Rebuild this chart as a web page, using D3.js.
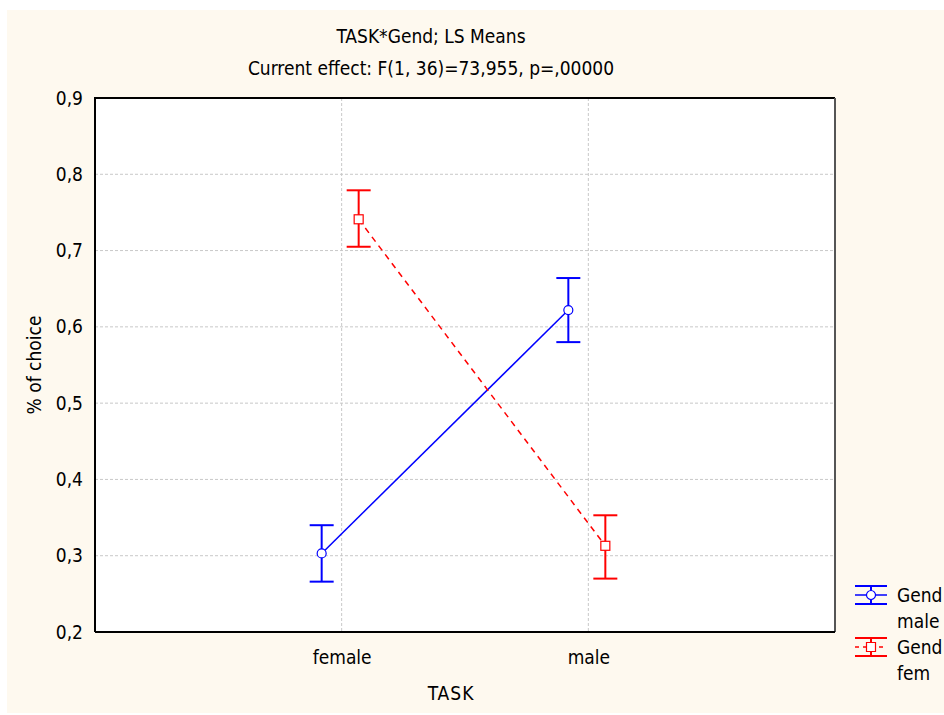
<!DOCTYPE html>
<html>
<head>
<meta charset="utf-8">
<script src="https://cdn.jsdelivr.net/npm/d3@7"></script>
<style>
  body { margin: 0; background: #fff; }
  text { font-family: "Liberation Sans Narrow", "DejaVu Sans Condensed", sans-serif; }
</style>
</head>
<body>
<svg id="svgx" width="944" height="715"></svg>
<script>
// ---- data
const tasks = ["female", "male"];
const yTicks = [0.2, 0.3, 0.4, 0.5, 0.6, 0.7, 0.8, 0.9];
const maleMean  = [0.303, 0.622];
const maleLow   = [0.266, 0.580];
const maleHigh  = [0.340, 0.664];
const femMean   = [0.741, 0.313];
const femLow    = [0.705, 0.270];
const femHigh   = [0.779, 0.353];
const legendLabels = [["Gend", "male"], ["Gend", "fem"]];

const margin = { top: 98, right: 109, bottom: 83, left: 95 };
const width = 944, height = 715;
const innerW = width - margin.left - margin.right;
const innerH = height - margin.top - margin.bottom;
const fontsize = 19;

const svg = d3.select("#svgx");

// cream background
svg.append("rect")
  .attr("x", 7).attr("y", 10)
  .attr("width", width - 7).attr("height", height - 12)
  .attr("fill", "#fef9ef");

const g = svg.append("g")
  .attr("transform", `translate(${margin.left},${margin.top})`);

g.append("rect")
  .attr("width", innerW).attr("height", innerH)
  .attr("fill", "#fff");

const xScale = d3.scalePoint().domain(tasks).range([0, innerW]).padding(1);
const yScale = d3.scaleLinear().domain([0.2, 0.9]).range([innerH, 0]);

// grid
g.selectAll(".hgrid").data(yTicks.slice(1, -1)).enter()
  .append("line")
  .attr("x1", 0).attr("x2", innerW)
  .attr("y1", d => yScale(d)).attr("y2", d => yScale(d))
  .attr("stroke", "#c8c8c8").attr("stroke-dasharray", "3,2").attr("stroke-width", 1);

g.selectAll(".vgrid").data(tasks).enter()
  .append("line")
  .attr("x1", d => xScale(d)).attr("x2", d => xScale(d))
  .attr("y1", 0).attr("y2", innerH)
  .attr("stroke", "#c8c8c8").attr("stroke-dasharray", "3,2").attr("stroke-width", 1);

// axes
const yAxis = d3.axisLeft(yScale).tickValues(yTicks)
  .tickFormat(d => d3.format(".1f")(d).replace(".", ","))
  .tickSize(0).tickPadding(12);
const yAxisG = g.append("g").call(yAxis);
yAxisG.select(".domain").remove();
yAxisG.selectAll("text").style("font-size", fontsize).attr("fill", "#000");

const xAxis = d3.axisBottom(xScale).tickSize(0).tickPadding(19);
const xAxisG = g.append("g").attr("transform", `translate(0,${innerH})`).call(xAxis);
xAxisG.select(".domain").remove();
xAxisG.selectAll("text").style("font-size", fontsize).attr("fill", "#000");

// frame
g.append("path")
  .attr("d", `M0,${innerH} V0 H${innerW}`)
  .attr("fill", "none").attr("stroke", "#000").attr("stroke-width", 2);
g.append("line")
  .attr("x1", innerW).attr("x2", innerW).attr("y1", 0).attr("y2", innerH)
  .attr("stroke", "#555").attr("stroke-width", 2);
g.append("line")
  .attr("x1", 0).attr("x2", innerW).attr("y1", innerH).attr("y2", innerH)
  .attr("stroke", "#000").attr("stroke-width", 2);

// series
const series = [
  { key: "male", color: "#0000ff", dx: -20, mean: maleMean, low: maleLow, high: maleHigh, dash: null, sym: "circle" },
  { key: "fem",  color: "#ff0000", dx: 17,  mean: femMean,  low: femLow,  high: femHigh,  dash: "6,5", sym: "square" }
];

const capW = 12;
series.forEach(s => {
  const pts = tasks.map((t, i) => ({ x: xScale(t) + s.dx, m: s.mean[i], lo: s.low[i], hi: s.high[i] }));
  const sg = g.append("g");
  sg.append("path")
    .attr("d", d3.line().x(d => d.x).y(d => yScale(d.m))(pts))
    .attr("fill", "none").attr("stroke", s.color).attr("stroke-width", 1.5)
    .attr("stroke-dasharray", s.dash);
  const eb = sg.selectAll(".eb").data(pts).enter().append("g");
  eb.append("line")
    .attr("x1", d => d.x).attr("x2", d => d.x)
    .attr("y1", d => yScale(d.lo)).attr("y2", d => yScale(d.hi))
    .attr("stroke", s.color).attr("stroke-width", 2);
  eb.append("line")
    .attr("x1", d => d.x - capW).attr("x2", d => d.x + capW)
    .attr("y1", d => yScale(d.lo)).attr("y2", d => yScale(d.lo))
    .attr("stroke", s.color).attr("stroke-width", 2);
  eb.append("line")
    .attr("x1", d => d.x - capW).attr("x2", d => d.x + capW)
    .attr("y1", d => yScale(d.hi)).attr("y2", d => yScale(d.hi))
    .attr("stroke", s.color).attr("stroke-width", 2);
  if (s.sym === "circle") {
    eb.append("circle").attr("cx", d => d.x).attr("cy", d => yScale(d.m)).attr("r", 4.5)
      .attr("fill", "#fff").attr("stroke", s.color).attr("stroke-width", 1.2);
  } else {
    eb.append("rect").attr("x", d => d.x - 4.5).attr("y", d => yScale(d.m) - 4.5)
      .attr("width", 9).attr("height", 9)
      .attr("fill", "#fff").attr("stroke", s.color).attr("stroke-width", 1.2);
  }
});

// labels
svg.append("text")
  .attr("x", 431).attr("y", 43).attr("text-anchor", "middle")
  .style("font-size", fontsize).text("TASK*Gend; LS Means");
svg.append("text")
  .attr("x", 431).attr("y", 75).attr("text-anchor", "middle")
  .style("font-size", fontsize).text("Current effect: F(1, 36)=73,955, p=,00000");
svg.append("text")
  .attr("x", 451).attr("y", 700).attr("text-anchor", "middle")
  .style("font-size", fontsize).style("letter-spacing", "1px").text("TASK");
svg.append("text")
  .attr("transform", `translate(41,${margin.top + yScale(0.55)}) rotate(-90)`)
  .attr("text-anchor", "middle")
  .style("font-size", fontsize).text("% of choice");

// legend
const legend = svg.selectAll("g.legend").data(series).enter()
  .append("g").attr("class", "legend")
  .attr("transform", (d, i) => `translate(871,${595 + i * 52})`);
legend.append("line")
  .attr("x1", -16).attr("x2", 16).attr("y1", 0).attr("y2", 0)
  .attr("stroke", d => d.color).attr("stroke-width", 1.5)
  .attr("stroke-dasharray", d => d.dash ? "4,4" : null);
legend.append("line")
  .attr("x1", -16).attr("x2", 16).attr("y1", -9).attr("y2", -9)
  .attr("stroke", d => d.color).attr("stroke-width", 2);
legend.append("line")
  .attr("x1", -16).attr("x2", 16).attr("y1", 9).attr("y2", 9)
  .attr("stroke", d => d.color).attr("stroke-width", 2);
legend.append("line")
  .attr("x1", 0).attr("x2", 0).attr("y1", -9).attr("y2", 9)
  .attr("stroke", d => d.color).attr("stroke-width", 2);
legend.append("path")
  .attr("d", d => d.sym === "circle" ? d3.symbol(d3.symbolCircle, 64)() : "M-4.5,-4.5H4.5V4.5H-4.5Z")
  .attr("fill", "#fff").attr("stroke", d => d.color).attr("stroke-width", 1.2);
legend.each(function (d, i) {
  const t = d3.select(this).append("text")
    .attr("x", 26).attr("y", 7).style("font-size", fontsize);
  t.append("tspan").text(legendLabels[i][0]);
  t.append("tspan").attr("x", 26).attr("dy", 26).text(legendLabels[i][1]);
});
</script>
</body>
</html>
